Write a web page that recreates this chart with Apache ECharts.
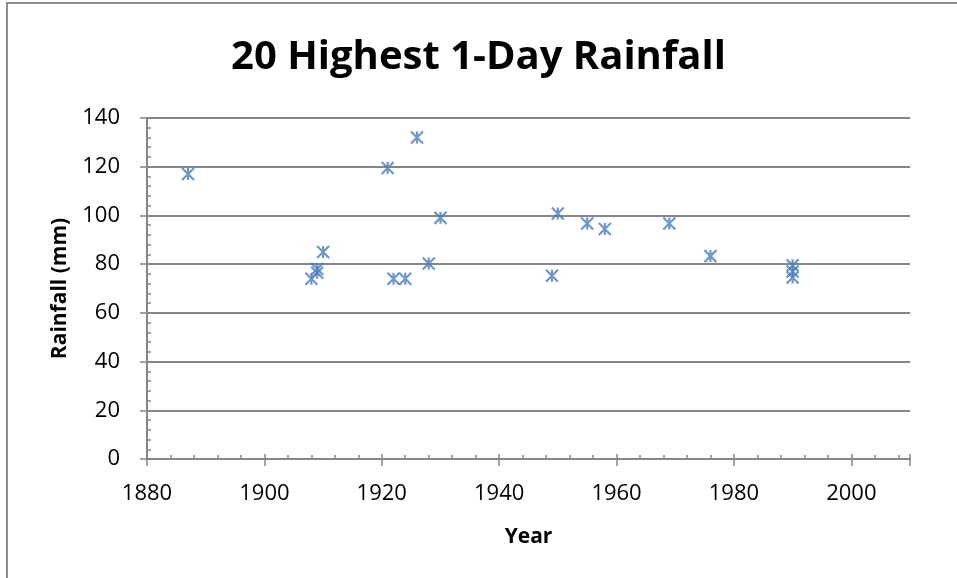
<!DOCTYPE html>
<html>
<head>
<meta charset="utf-8">
<script src="https://cdn.jsdelivr.net/npm/echarts@6/dist/echarts.min.js"></script>
<style>html,body{margin:0;padding:0;background:#fff;}#c{width:957px;height:578px;}</style>
</head>
<body>
<div id="c"></div>
<script>
const years = [1887, 1908, 1909, 1909, 1910, 1921, 1922, 1924, 1926, 1928, 1930, 1949, 1950, 1955, 1958, 1969, 1976, 1990, 1990, 1990];
const rainfall = [117, 74, 78, 76.5, 85, 119.5, 74, 74, 132, 80.3, 99, 75.2, 100.8, 96.7, 94.4, 96.7, 83.3, 79.5, 77, 74.5];
const titleText = '20 Highest 1-Day Rainfall';
const xName = 'Year';
const yName = 'Rainfall (mm)';

const FONT = 'Open Sans';
const AX = '#868686';
const chart = echarts.init(document.getElementById('c'), null, {renderer: 'canvas'});
const pts = years.map((y, i) => [y, rainfall[i]]);
const grid = {left: 147, right: 47, top: 118, bottom: 119};
chart.setOption({
  animation: false,
  backgroundColor: '#fff',
  graphic: [{
    type: 'rect', shape: {x: 7, y: 3, width: 1000, height: 700},
    style: {fill: 'none', stroke: '#8c8c8c', lineWidth: 2}
  }],
  title: {
    text: titleText, left: 'center', top: 33,
    textStyle: {fontFamily: FONT, fontWeight: 'bold', fontSize: 40, color: '#000'}
  },
  grid: grid,
  xAxis: [{
    type: 'value', min: 1880, max: 2010, interval: 20,
    name: xName, nameLocation: 'middle', nameGap: 68,
    nameTextStyle: {fontFamily: FONT, fontWeight: 'bold', fontSize: 21, color: '#000'},
    axisLine: {show: true, lineStyle: {color: AX, width: 2}},
    axisTick: {show: true, inside: true, length: 5, lineStyle: {color: AX, width: 1.5}},
    minorTick: {show: true, splitNumber: 5, length: 4, lineStyle: {color: AX, width: 1.5}},
    axisLabel: {fontFamily: FONT, fontSize: 22, color: '#000', margin: 24,
      formatter: v => (v % 20 === 0 && v <= 2000) ? String(v) : ''},
    splitLine: {show: false}
  }, {
    type: 'value', min: 1880, max: 2010, interval: 20, position: 'bottom',
    axisLine: {show: false},
    axisTick: {show: true, inside: false, length: 7, lineStyle: {color: AX, width: 1.5}},
    axisLabel: {show: false}, splitLine: {show: false}
  }],
  yAxis: [{
    type: 'value', min: 0, max: 140, interval: 20,
    name: yName, nameLocation: 'middle', nameGap: 76, nameRotate: 90,
    nameTextStyle: {fontFamily: FONT, fontWeight: 'bold', fontSize: 21, color: '#000'},
    axisLine: {show: true, lineStyle: {color: AX, width: 2}},
    axisTick: {show: true, inside: true, length: 5, lineStyle: {color: AX, width: 1.5}},
    minorTick: {show: true, splitNumber: 5, length: 4, lineStyle: {color: AX, width: 1.5}},
    axisLabel: {fontFamily: FONT, fontSize: 22, color: '#000', margin: 27},
    splitLine: {show: true, lineStyle: {color: AX, width: 2}}
  }, {
    type: 'value', min: 0, max: 140, interval: 20, position: 'left',
    axisLine: {show: false},
    axisTick: {show: true, inside: false, length: 7, lineStyle: {color: AX, width: 1.5}},
    axisLabel: {show: false}, splitLine: {show: false}
  }],
  series: [{
    type: 'scatter', xAxisIndex: 0, yAxisIndex: 0,
    data: pts,
    symbol: 'path://M0,0L10,10M10,0L0,10M5,0L5,10',
    symbolSize: 12,
    itemStyle: {color: 'rgba(0,0,0,0)', borderColor: '#4a7ebb', borderWidth: 2.2}
  }]
});
</script>
</body>
</html>
